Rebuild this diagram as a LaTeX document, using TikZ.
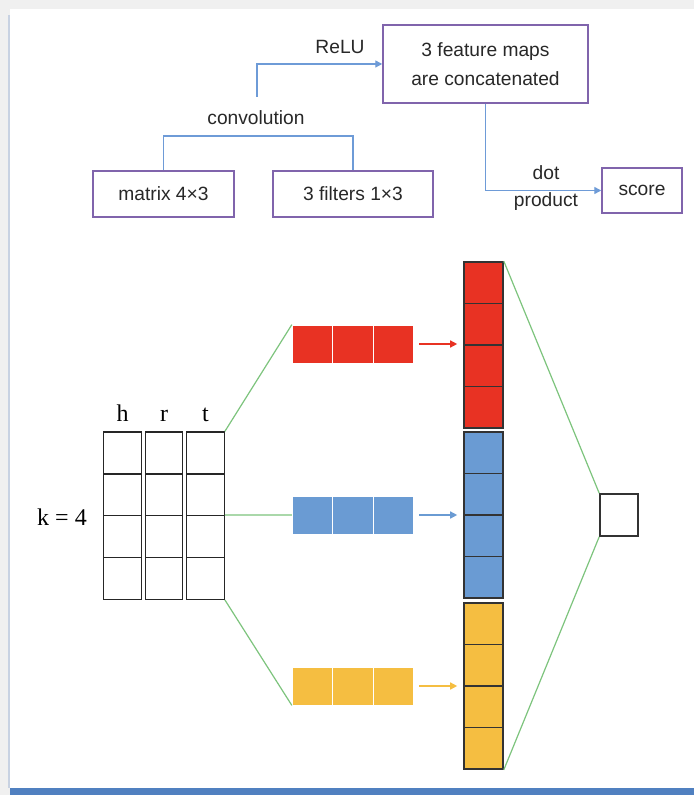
\documentclass[tikz,border=0pt]{standalone}
\usepackage{fontspec}
\setmainfont{Liberation Serif}
\setsansfont{Liberation Sans}
\usetikzlibrary{calc}
\usetikzlibrary{arrows.meta}

\definecolor{boxpurple}{RGB}{128,100,172}
\definecolor{flowblue}{RGB}{110,155,215}
\definecolor{textgray}{RGB}{40,40,40}
\definecolor{linkgreen}{RGB}{125,196,125}
\definecolor{convred}{RGB}{232,50,35}
\definecolor{convblue}{RGB}{106,155,211}
\definecolor{convyellow}{RGB}{245,190,65}
\definecolor{framegray}{RGB}{240,240,240}
\definecolor{frameblue}{RGB}{80,128,192}
\definecolor{frameline}{RGB}{200,210,226}

\tikzset{
  flowbox/.style={draw=boxpurple, line width=0.75pt, text=textgray, align=center,
    font=\sffamily\fontsize{9.6}{14.5}\selectfont},
  flowlabel/.style={text=textgray, align=center, font=\sffamily\fontsize{9.6}{13.5}\selectfont},
  flowarrow/.style={draw=flowblue, line width=0.7pt, -{Triangle[length=3.5pt,width=3.5pt]}},
  cell/.style={draw=black!85, line width=0.6pt, minimum width=18.75pt, minimum height=21pt},
  fcell/.style={draw=white, line width=0.4pt, minimum width=20.25pt, minimum height=19pt},
  vcell/.style={draw=black!80, line width=0.8pt, minimum width=19.5pt, minimum height=20.75pt},
  colarrow/.style={line width=0.7pt, -{Triangle[length=3.5pt,width=3.5pt]}},
  link/.style={draw=linkgreen, line width=0.6pt},
}

\begin{document}
\begin{tikzpicture}[x=0.5pt,y=-0.5pt,inner sep=0pt]
\useasboundingbox (0,0) rectangle (694,795);
% frame
\fill[framegray] (0,0) rectangle (694,795);
\fill[white] (10,9) rectangle (694,788);
\fill[frameline] (7.5,15) rectangle (10,788);
\fill[frameblue] (10,788) rectangle (694,795);

% top flow
\node[flowbox, minimum width=102.5pt, minimum height=39pt] (concat) at (485.5,64) {3 feature maps\\are concatenated};
\node[flowbox, minimum width=70.5pt, minimum height=23pt] (mat) at (163.5,194) {matrix 4×3};
\node[flowbox, minimum width=80pt, minimum height=23pt] (filt) at (353,194) {3 filters 1×3};
\node[flowbox, minimum width=40pt, minimum height=22.5pt] (score) at (642,190.5) {score};

\coordinate (conv) at (259,136);
\coordinate (relu0) at (257,97);
\node[flowlabel] (convlabel) at (256,118) {convolution};
\node[flowlabel] (relulabel) at (340,47) {ReLU};
\node[flowlabel] (dotlabel) at (546,188.5) {dot\\product};

\draw[flowblue, line width=0.7pt] (mat.north) |- (conv) -| (filt.north);
\draw[flowarrow] (relu0) |- (concat.west);
\draw[flowarrow] (concat.south) |- (score.west);

% input matrix
\foreach \i in {1,...,4}
  \foreach \j in {1,2,3}
    \node[cell] (m-\i-\j) at ({122.5+41.5*(\j-1)},{453+41.75*(\i-1)}) {};
\foreach \l [count=\j] in {h,r,t}
  \node[anchor=base, font=\fontsize{12}{12}\selectfont] (lab-\j) at ({122.5+41.5*(\j-1)},421) {\l};
\node[anchor=base, font=\fontsize{12}{12}\selectfont] (klabel) at (62,525) {k = 4};

% filters and feature maps
\foreach \n/\c/\y/\t in {r/convred/344/262, b/convblue/515/432, y/convyellow/686/603} {
  \foreach \i in {1,2,3}
    \node[fcell, fill=\c] (f\n-\i) at ({312.5+40.5*(\i-1)},\y) {};
  \foreach \i in {1,...,4}
    \node[vcell, fill=\c] (c\n-\i) at (483.5,{\t+20.75+41.5*(\i-1)}) {};
  \draw[colarrow, draw=\c, fill=\c, shorten <=2.5pt, shorten >=3pt] (f\n-3.east) -- (f\n-3.east -| c\n-1.west);
}

\node[draw=black!80, line width=0.8pt, minimum width=19pt, minimum height=21pt] (out) at (619,515) {};

\draw[link] (m-1-3.north east) -- (fr-1.north west);
\draw[link] (m-3-3.north east) -- (fb-1.west);
\draw[link] (m-4-3.south east) -- (fy-1.south west);
\draw[link] (cr-1.north east) -- (out.north west);
\draw[link] (cy-4.south east) -- (out.south west);
\end{tikzpicture}
\end{document}
